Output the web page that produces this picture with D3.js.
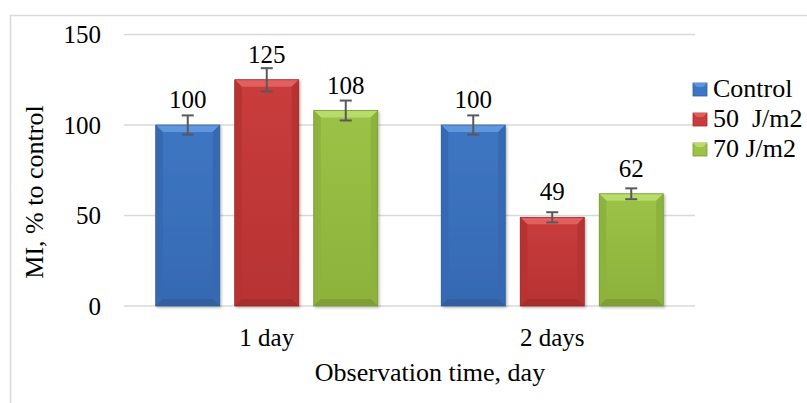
<!DOCTYPE html>
<html>
<head>
<meta charset="utf-8">
<script src="https://cdn.jsdelivr.net/npm/d3@7"></script>
<style>
  body { margin: 0; background: #fff; }
</style>
</head>
<body>
<div class="chart"></div>
<script>

// chart data
var categories = ["1 day", "2 days"];
var seriesNames = ["Control", "50  J/m2", "70 J/m2"];
var controlValues = [100, 100];
var j50Values = [125, 49];
var j70Values = [108, 62];
var controlErrors = [5.3, 5.3];
var j50Errors = [6.4, 2.8];
var j70Errors = [5.5, 3];
var yTicks = [0, 50, 100, 150];

var seriesValues = [controlValues, j50Values, j70Values];
var seriesErrors = [controlErrors, j50Errors, j70Errors];

// colours: main, top bevel, sides, bottom
var palette = [
	{ main: "#3e76c3", top: "#5e96de", side: "#3569b2", bottom: "#30619f", stroke: "#30609f" },
	{ main: "#c93c3c", top: "#e25e5e", side: "#b73333", bottom: "#a82d2d", stroke: "#9d2b2b" },
	{ main: "#9cc247", top: "#b8dc6a", side: "#8db23c", bottom: "#7f9f35", stroke: "#7b9a35" }
];

var W = 807, H = 403;
var serif = "'Liberation Serif', 'DejaVu Serif', 'Times New Roman', Times, serif";

var svg = d3.select(".chart")
	.append("svg")
	.attr("width", W)
	.attr("height", H)
	.attr("font-family", serif)
	.style("font-family", serif);

// outer chart border (right/bottom edges fall outside the picture)
svg.append("rect")
	.attr("x", 10.5)
	.attr("y", 15.5)
	.attr("width", 900)
	.attr("height", 500)
	.attr("fill", "none")
	.attr("stroke", "#d9d9d9")
	.attr("stroke-width", 1.5);

var defs = svg.append("defs");
var shadow = defs.append("filter").attr("id", "shadow")
	.attr("x", "-10%").attr("y", "-10%").attr("width", "130%").attr("height", "130%");
shadow.append("feDropShadow")
	.attr("dx", 1.5).attr("dy", 1.5).attr("stdDeviation", 1.2)
	.attr("flood-color", "#000").attr("flood-opacity", 0.25);

palette.forEach(function(p, i) {
	var g = defs.append("linearGradient").attr("id", "grad" + i)
		.attr("x1", 0).attr("y1", 0).attr("x2", 0).attr("y2", 1);
	g.append("stop").attr("offset", "0%").attr("stop-color", p.main);
	g.append("stop").attr("offset", "100%").attr("stop-color", p.side);
});

// scales
var x0 = d3.scaleBand()
	.domain(categories)
	.range([124, 695]);

var x1 = d3.scaleBand()
	.domain(seriesNames)
	.range([31.75, x0.bandwidth() - 31.75])
	.paddingInner(0.19);

var y = d3.scaleLinear()
	.domain([0, 150])
	.range([306, 34.5]);

// grid lines
svg.append("g")
	.selectAll("line")
	.data(yTicks)
	.join("line")
	.attr("x1", 124)
	.attr("x2", 695)
	.attr("y1", d => y(d))
	.attr("y2", d => y(d))
	.attr("stroke", "#d9d9d9")
	.attr("stroke-width", 1.6);

// y tick labels
svg.append("g")
	.selectAll("text")
	.data(yTicks)
	.join("text")
	.attr("x", 101)
	.attr("y", d => y(d) + 8.5)
	.attr("text-anchor", "end")
	.style("font-size", "25px")
	.text(d => d);

// bars
var bars = [];
categories.forEach(function(cat, ci) {
	seriesNames.forEach(function(s, si) {
		bars.push({ cat: cat, series: s, si: si, value: seriesValues[si][ci], err: seriesErrors[si][ci] });
	});
});

var bevel = 7;

var barG = svg.append("g")
	.selectAll("g.bar")
	.data(bars)
	.join("g")
	.attr("class", "bar")
	.attr("filter", "url(#shadow)");

barG.each(function(d) {
	var g = d3.select(this),
		p = palette[d.si],
		left = x0(d.cat) + x1(d.series),
		right = left + x1.bandwidth(),
		top = y(d.value),
		bottom = y(0),
		b = Math.min(bevel, (bottom - top) / 2);

	g.append("rect")
		.attr("x", left).attr("y", top)
		.attr("width", right - left).attr("height", bottom - top)
		.attr("fill", "url(#grad" + d.si + ")");

	// bevel faces
	g.append("polygon")
		.attr("points", [[left, top], [right, top], [right - b, top + b], [left + b, top + b]].join(" "))
		.attr("fill", p.top);
	g.append("polygon")
		.attr("points", [[left, top], [left + b, top + b], [left + b, bottom - b], [left, bottom]].join(" "))
		.attr("fill", p.side);
	g.append("polygon")
		.attr("points", [[right, top], [right, bottom], [right - b, bottom - b], [right - b, top + b]].join(" "))
		.attr("fill", p.side);
	g.append("polygon")
		.attr("points", [[left, bottom], [left + b, bottom - b], [right - b, bottom - b], [right, bottom]].join(" "))
		.attr("fill", p.bottom);

	g.append("rect")
		.attr("x", left).attr("y", top)
		.attr("width", right - left).attr("height", bottom - top)
		.attr("fill", "none")
		.attr("stroke", p.stroke)
		.attr("stroke-width", 0.8);
});

// error bars
var errG = svg.append("g")
	.attr("stroke", "#595959")
	.attr("stroke-width", 2);

bars.forEach(function(d) {
	var cx = x0(d.cat) + x1(d.series) + x1.bandwidth() / 2;
	errG.append("line")
		.attr("x1", cx).attr("x2", cx)
		.attr("y1", y(d.value + d.err)).attr("y2", y(d.value - d.err));
	[d.value + d.err, d.value - d.err].forEach(function(v) {
		errG.append("line")
			.attr("x1", cx - 6).attr("x2", cx + 6)
			.attr("y1", y(v)).attr("y2", y(v));
	});
});

// value labels
svg.append("g")
	.selectAll("text")
	.data(bars)
	.join("text")
	.attr("x", d => x0(d.cat) + x1(d.series) + x1.bandwidth() / 2)
	.attr("y", d => y(d.value) - 17)
	.attr("text-anchor", "middle")
	.style("font-size", "25px")
	.text(d => d.value);

// category labels
svg.append("g")
	.selectAll("text")
	.data(categories)
	.join("text")
	.attr("x", d => x0(d) + x0.bandwidth() / 2)
	.attr("y", 346)
	.attr("text-anchor", "middle")
	.style("font-size", "25px")
	.text(d => d);

// axis titles
svg.append("text")
	.attr("x", 430)
	.attr("y", 381)
	.attr("text-anchor", "middle")
	.style("font-size", "26px")
	.text("Observation time, day");

svg.append("text")
	.attr("transform", "translate(43,192) rotate(-90)")
	.attr("text-anchor", "middle")
	.style("font-size", "26px")
	.text("MI, % to control");

// legend
var legend = svg.append("g")
	.selectAll("g")
	.data(seriesNames)
	.join("g")
	.attr("transform", (d, i) => "translate(693," + (83 + i * 30) + ")");

legend.append("rect")
	.attr("width", 14)
	.attr("height", 13)
	.attr("fill", (d, i) => palette[i].main)
	.attr("stroke", (d, i) => palette[i].stroke)
	.attr("stroke-width", 0.8);

legend.append("polygon")
	.attr("points", "0,0 14,0 10,4 4,4")
	.attr("fill", (d, i) => palette[i].top);

legend.append("text")
	.attr("x", 20)
	.attr("y", 14)
	.style("font-size", "26px")
	.style("white-space", "pre")
	.attr("xml:space", "preserve")
	.text(d => d);

</script>
</body>
</html>
